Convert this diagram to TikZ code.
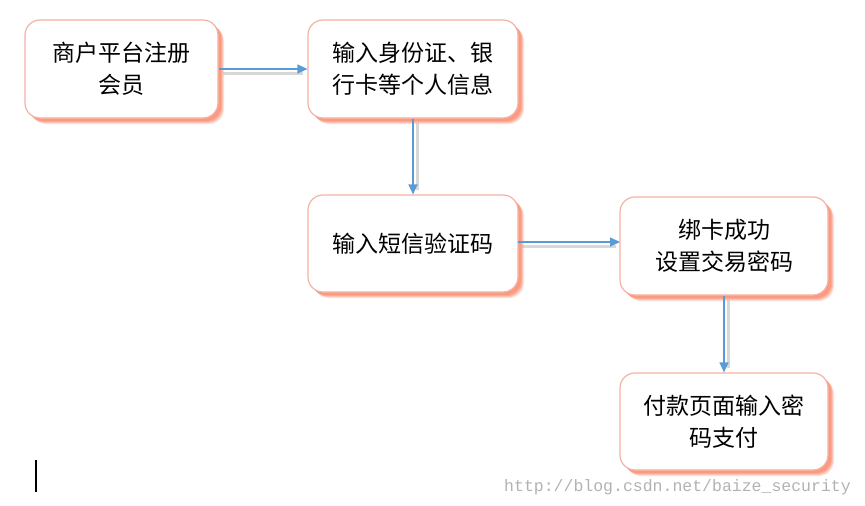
\documentclass[tikz,border=0pt]{standalone}
\usepackage{fontspec}
\setmainfont{Noto Sans CJK SC}
\newfontfamily\wmfont{Liberation Mono}
\usetikzlibrary{arrows.meta,shadows}
\definecolor{boxedge}{HTML}{F5B2A4}
\definecolor{boxshadow}{HTML}{FC8F72}
\definecolor{arrowblue}{HTML}{5B9BD5}
\tikzset{
  stepbox/.style={draw=boxedge, line width=1.2pt, fill=white, rounded corners=15pt,
    minimum width=#1, minimum height=98pt, align=center, inner sep=0pt,
    font=\fontsize{23pt}{32pt}\selectfont,
    drop shadow={shadow xshift=6pt, shadow yshift=-6pt, fill=boxshadow, opacity=0.25, draw=none},
    drop shadow={shadow xshift=5pt, shadow yshift=-5pt, fill=boxshadow, opacity=0.35, draw=none},
    drop shadow={shadow xshift=4pt, shadow yshift=-4pt, fill=boxshadow, opacity=0.5, draw=none},
    drop shadow={shadow xshift=3pt, shadow yshift=-3pt, fill=boxshadow, opacity=0.6, draw=none}},
  flow/.style={draw=arrowblue, line width=1.3pt, -{Triangle[length=10pt,width=9pt]}},
  flowshadow/.style={draw=black!30, line width=3pt, opacity=0.5},
}
\begin{document}
\begin{tikzpicture}[x=1pt,y=-1pt]
\useasboundingbox (0,0) rectangle (865,506);
\node[stepbox=193pt] (a) at (121.5,69) {商户平台注册\\会员};
\node[stepbox=210pt] (b) at (413,69) {输入身份证、银\\行卡等个人信息};
\node[stepbox=210pt, minimum height=97pt] (c) at (413,243.5) {输入短信验证码};
\node[stepbox=208pt] (d) at (724,246) {绑卡成功\\设置交易密码};
\node[stepbox=208pt, minimum height=97pt] (e) at (724,421.5) {付款页面输入密\\码支付};
\coordinate (ce) at (518,242);
\coordinate (dw) at (620,242);
% arrow shadows
\draw[flowshadow] ([xshift=4pt,yshift=-4pt]a.east) -- ([xshift=-4pt,yshift=-4pt]b.west);
\draw[flowshadow] ([xshift=4pt,yshift=-4pt]b.south) -- ([xshift=4pt,yshift=4pt]c.north);
\draw[flowshadow] ([xshift=4pt,yshift=-4pt]ce) -- ([xshift=-4pt,yshift=-4pt]dw);
\draw[flowshadow] ([xshift=4pt,yshift=-4pt]d.south) -- ([xshift=4pt,yshift=4pt]e.north);
% arrows
\draw[flow] (a.east) -- (b.west);
\draw[flow] (b.south) -- (c.north);
\draw[flow] (ce) -- (dw);
\draw[flow] (d.south) -- (e.north);
% watermark and cursor line
\node[anchor=west, inner sep=0pt, text=black!30, font=\wmfont\fontsize{16.5pt}{18pt}\selectfont] (wm) at (504,487) {http://blog.csdn.net/baize\_security};
\coordinate (ct) at (36,460);
\coordinate (cb) at (36,492);
\draw[line width=1.3pt] (ct) -- (cb);
\end{tikzpicture}
\end{document}
